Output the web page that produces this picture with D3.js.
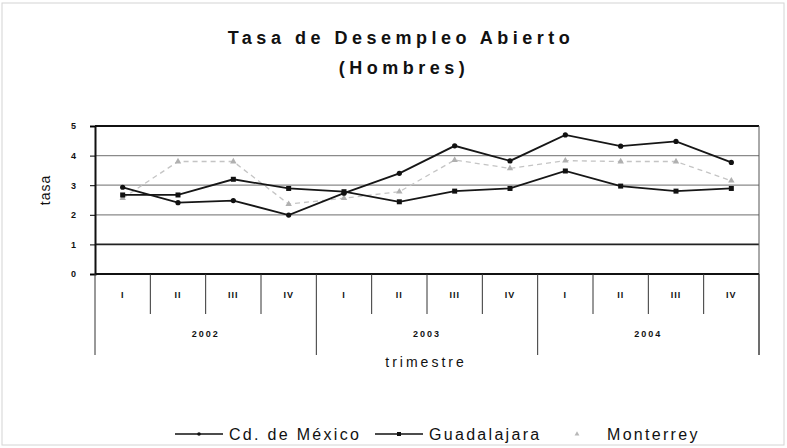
<!DOCTYPE html>
<html>
<head>
<meta charset="utf-8">
<script src="https://cdn.jsdelivr.net/npm/d3@7"></script>
<style>
  body { margin: 0; background: #fff; }
  svg text { font-family: Arial, "Liberation Sans", sans-serif; fill: #111; }
</style>
</head>
<body>
<svg id="chart" width="787" height="448"></svg>
<script>
// data
const quarters = ["I", "II", "III", "IV", "I", "II", "III", "IV", "I", "II", "III", "IV"]
const years = ["2002", "2003", "2004"]
const yTicks = [0, 1, 2, 3, 4, 5]
const cdMexico = [2.93, 2.41, 2.48, 1.99, 2.73, 3.40, 4.33, 3.82, 4.70, 4.32, 4.48, 3.77]
const guadalajara = [2.67, 2.67, 3.20, 2.89, 2.78, 2.44, 2.80, 2.89, 3.48, 2.97, 2.80, 2.89]
const monterrey = [2.56, 3.80, 3.80, 2.36, 2.56, 2.78, 3.85, 3.57, 3.83, 3.80, 3.80, 3.15]

const svg = d3.select("#chart")
const margin = {left: 95, right: 28, top: 126, bottom: 174}
const W = 787, H = 448
const plotW = W - margin.left - margin.right
const y0 = H - margin.bottom

// outer frame of the chart area
svg.append("rect")
    .attr("x", 2).attr("y", 3).attr("width", W - 5).attr("height", H - 6)
    .attr("fill", "none").attr("stroke", "#d4d4d4")

const idx = d3.range(quarters.length)
const x = d3.scaleBand().domain(idx).range([margin.left, margin.left + plotW])
const y = d3.scaleLinear().domain([0, 5]).range([y0, margin.top])
const cx = i => x(i) + x.bandwidth() / 2

// gridlines
svg.append("g").selectAll("line")
    .data([1, 2, 3, 4])
    .join("line")
    .attr("x1", margin.left).attr("x2", margin.left + plotW)
    .attr("y1", d => y(d)).attr("y2", d => y(d))
    .attr("stroke", d => d === 1 ? "#222" : "#8a8a8a")
    .attr("stroke-width", d => d === 1 ? 1.6 : 1.2)

// top border + right border
svg.append("line")
    .attr("x1", margin.left).attr("x2", margin.left + plotW)
    .attr("y1", y(5)).attr("y2", y(5))
    .attr("stroke", "#111").attr("stroke-width", 2)
svg.append("line")
    .attr("x1", margin.left + plotW).attr("x2", margin.left + plotW)
    .attr("y1", y(5)).attr("y2", y0 + 81)
    .attr("stroke", "#555").attr("stroke-width", 1)

// y axis
const yAxis = svg.append("g")
    .attr("transform", `translate(${margin.left},0)`)
    .call(d3.axisLeft(y).tickValues(yTicks).tickFormat(d3.format("d")).tickSize(5).tickPadding(14))
yAxis.select(".domain").attr("stroke", "#111").attr("stroke-width", 2)
yAxis.selectAll("text").attr("font-size", 9).attr("font-weight", "bold")

// x axis baseline
svg.append("line")
    .attr("x1", margin.left).attr("x2", margin.left + plotW)
    .attr("y1", y0).attr("y2", y0)
    .attr("stroke", "#111").attr("stroke-width", 2)

// quarter cells
const qg = svg.append("g")
qg.selectAll("line")
    .data(idx.filter(i => i % 4 !== 0))
    .join("line")
    .attr("x1", d => x(d)).attr("x2", d => x(d))
    .attr("y1", y0).attr("y2", y0 + 40)
    .attr("stroke", "#333")
qg.selectAll("text")
    .data(quarters)
    .join("text")
    .attr("x", (d, i) => cx(i)).attr("y", y0 + 24)
    .attr("text-anchor", "middle")
    .attr("font-size", 9).attr("font-weight", "bold")
    .attr("letter-spacing", 1)
    .text(d => d)

// year cells
const yg = svg.append("g")
yg.selectAll("line")
    .data(d3.range(years.length + 1))
    .join("line")
    .attr("x1", d => d < years.length ? x(d * 4) : margin.left + plotW)
    .attr("x2", d => d < years.length ? x(d * 4) : margin.left + plotW)
    .attr("y1", y0).attr("y2", y0 + 81)
    .attr("stroke", "#333")
yg.selectAll("text")
    .data(years)
    .join("text")
    .attr("x", (d, i) => (x(i * 4) + x(i * 4 + 3) + x.bandwidth()) / 2)
    .attr("y", y0 + 63)
    .attr("text-anchor", "middle")
    .attr("font-size", 9).attr("font-weight", "bold")
    .attr("letter-spacing", 2)
    .text(d => d)

// axis titles
svg.append("text")
    .attr("x", 426).attr("y", y0 + 93)
    .attr("text-anchor", "middle").attr("font-size", 14)
    .attr("letter-spacing", 3)
    .text("trimestre")
svg.append("text")
    .attr("transform", "translate(50,190) rotate(-90)")
    .attr("text-anchor", "middle").attr("font-size", 14)
    .attr("letter-spacing", 1)
    .text("tasa")

// title
svg.append("text")
    .attr("x", 401).attr("y", 44)
    .attr("text-anchor", "middle").attr("font-size", 18).attr("font-weight", "bold")
    .attr("letter-spacing", 4.5)
    .text("Tasa de Desempleo Abierto")
svg.append("text")
    .attr("x", 404).attr("y", 74)
    .attr("text-anchor", "middle").attr("font-size", 18).attr("font-weight", "bold")
    .attr("letter-spacing", 4.5)
    .text("(Hombres)")

// series
const line = d3.line().x((d, i) => cx(i)).y(d => y(d))

svg.append("path").datum(monterrey)
    .attr("d", line).attr("fill", "none")
    .attr("stroke", "#c4c4c4").attr("stroke-width", 1.3)
    .attr("stroke-dasharray", "5,4")
svg.append("g").selectAll("path")
    .data(monterrey)
    .join("path")
    .attr("transform", (d, i) => `translate(${cx(i)},${y(d)})`)
    .attr("d", d3.symbol(d3.symbolTriangle, 18))
    .attr("fill", "#b0b0b0")

svg.append("path").datum(guadalajara)
    .attr("d", line).attr("fill", "none")
    .attr("stroke", "#161616").attr("stroke-width", 1.8)
svg.append("g").selectAll("rect")
    .data(guadalajara)
    .join("rect")
    .attr("x", (d, i) => cx(i) - 2.5).attr("y", d => y(d) - 2.5)
    .attr("width", 5).attr("height", 5)
    .attr("fill", "#111")

svg.append("path").datum(cdMexico)
    .attr("d", line).attr("fill", "none")
    .attr("stroke", "#161616").attr("stroke-width", 1.8)
svg.append("g").selectAll("circle")
    .data(cdMexico)
    .join("circle")
    .attr("cx", (d, i) => cx(i)).attr("cy", d => y(d))
    .attr("r", 2.6).attr("fill", "#111")

// legend
const legend = [
    {name: "Cd. de México", x: 175, kind: "circle"},
    {name: "Guadalajara", x: 375, kind: "square"},
    {name: "Monterrey", x: 552, kind: "tri"}
]
const lg = svg.append("g").attr("transform", "translate(0,434)")
legend.forEach(l => {
    if (l.kind !== "tri") {
        lg.append("line")
            .attr("x1", l.x).attr("x2", l.x + 48).attr("y1", 0).attr("y2", 0)
            .attr("stroke", "#111").attr("stroke-width", 1.6)
        if (l.kind === "circle") {
            lg.append("circle").attr("cx", l.x + 24).attr("cy", 0).attr("r", 1.8).attr("fill", "#111")
        } else {
            lg.append("rect").attr("x", l.x + 22).attr("y", -2).attr("width", 4).attr("height", 4).attr("fill", "#111")
        }
    } else {
        lg.append("path")
            .attr("transform", `translate(${l.x + 25},0)`)
            .attr("d", d3.symbol(d3.symbolTriangle, 10))
            .attr("fill", "#b8b8b8")
    }
    lg.append("text")
        .attr("x", l.kind === "tri" ? l.x + 55 : l.x + 54).attr("y", 6)
        .attr("font-size", 16).attr("letter-spacing", 2.3)
        .text(l.name)
})
</script>
</body>
</html>
